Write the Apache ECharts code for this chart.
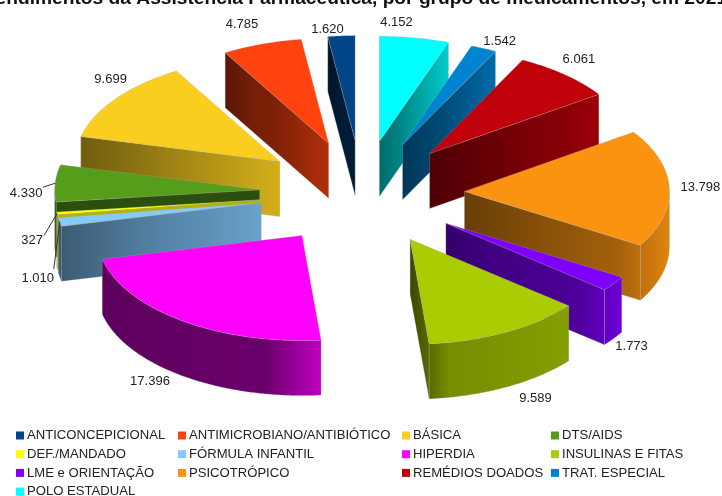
<!DOCTYPE html>
<html>
<head>
<meta charset="utf-8">
<style>html,body{margin:0;padding:0;background:#fff}#main{width:722px;height:496px}</style>
<script src="https://cdn.jsdelivr.net/npm/echarts@6/dist/echarts.min.js"></script>
</head>
<body>
<div id="main"></div>
<script>
const categories = ['ANTICONCEPICIONAL', 'ANTIMICROBIANO/ANTIBIÓTICO', 'BÁSICA', 'DTS/AIDS', 'DEF./MANDADO', 'FÓRMULA INFANTIL', 'HIPERDIA', 'INSULINAS E FITAS', 'LME e ORIENTAÇÃO', 'PSICOTRÓPICO', 'REMÉDIOS DOADOS', 'TRAT. ESPECIAL', 'POLO ESTADUAL']
const values = [1620, 4785, 9699, 4330, 327, 1010, 17396, 9589, 1773, 13798, 6061, 1542, 4152]
const labels = ['1.620', '4.785', '9.699', '4.330', '327', '1.010', '17.396', '9.589', '1.773', '13.798', '6.061', '1.542', '4.152']
const colors = ['#004586', '#ff420e', '#f9ce1e', '#579d1c', '#ffff00', '#83caff', '#ff00ff', '#aacc00', '#8000ff', '#fa9310', '#c0000a', '#0084d1', '#00ffff']

// wall brightness from the left to the right end of each slice
const wallShades = [
  [0.3, 0.35, 0.4, 0.4, 0.4],
  [0.35, 0.45, 0.5, 0.6, 0.7],
  [0.45, 0.55, 0.65, 0.75, 0.85],
  [0.5, 0.5, 0.5, 0.5, 0.5],
  [0.7, 0.7, 0.7, 0.7, 0.7],
  [0.45, 0.55, 0.65, 0.72, 0.8],
  [0.37, 0.38, 0.4, 0.42, 0.75],
  [0.35, 0.7, 0.72, 0.75, 0.78],
  [0.42, 0.5, 0.55, 0.6, 0.85],
  [0.42, 0.5, 0.58, 0.66, 0.9],
  [0.4, 0.5, 0.6, 0.7, 0.8],
  [0.42, 0.5, 0.6, 0.7, 0.8],
  [0.42, 0.5, 0.6, 0.7, 0.8]
]
// label offset from the slice's outer edge
const labelNudge = [[-14, -6], [-20, -20], [-5, -19], [-29, 10], [-25, 27], [-22, 56], [-32, 61], [29, 66], [18, 63], [31, -1], [14, -15], [16, -7], [-18, -15]]
const leaderTail = { 3: [17, -6], 4: [12, -5], 5: [16, -9] }

const CX = 362
const CY = 193
const RX = 205
const RY = 105
const EXPLODE = 0.5
const DEPTH = 55

const total = values.reduce((a, b) => a + b, 0)
const slices = []
let angle = 360
values.forEach((v, i) => {
  const a2 = angle
  angle -= v / total * 360
  slices.push({ index: i, a1: angle, a2: a2, mid: (angle + a2) / 2 })
})

const rad = d => d * Math.PI / 180
const ux = d => Math.sin(rad(d))
const uy = d => -Math.cos(rad(d))

function shade (hex, f) {
  const n = parseInt(hex.slice(1), 16)
  const c = [n >> 16, (n >> 8) & 255, n & 255].map(x => Math.round(x * f))
  return 'rgb(' + c.join(',') + ')'
}

function renderSlice (s) {
  const i = s.index
  const ox = CX + RX * EXPLODE * ux(s.mid)
  const oy = CY + RY * EXPLODE * uy(s.mid)
  const pt = d => [ox + RX * ux(d), oy + RY * uy(d)]
  const down = p => [p[0], p[1] + DEPTH]
  const arc = (a, b) => {
    const pts = []
    const n = Math.max(2, Math.ceil((b - a) * 2))
    for (let k = 0; k <= n; k++) pts.push(pt(a + (b - a) * k / n))
    return pts
  }
  const top = [[ox, oy]].concat(arc(s.a1, s.a2))
  const xs = top.map(p => p[0])
  const grad = new echarts.graphic.LinearGradient(Math.min(...xs), 0, Math.max(...xs), 0,
    wallShades[i].map((f, k) => ({ offset: k / 4, color: shade(colors[i], f) })), true)
  const edge = 'rgba(170,170,170,0.45)'
  const children = []
  const wall = pts => {
    const poly = pts.concat(pts.slice().reverse().map(down))
    children.push({ type: 'polygon', shape: { points: poly }, style: { fill: grad, stroke: edge, lineWidth: 0.6 } })
  }
  // only the faces turned towards the viewer
  if (uy(s.a1 - 90) > 0) wall([[ox, oy], pt(s.a1)])
  if (uy(s.a2 + 90) > 0) wall([[ox, oy], pt(s.a2)])
  const from = Math.max(s.a1, 90)
  const to = Math.min(s.a2, 270)
  if (to > from) wall(arc(from, to))
  children.push({ type: 'polygon', shape: { points: top }, style: { fill: colors[i], stroke: edge, lineWidth: 0.6 } })

  const outer = pt(s.mid)
  const lx = outer[0] + labelNudge[i][0]
  const ly = outer[1] + labelNudge[i][1]
  if (leaderTail[i]) {
    children.push({ type: 'line', z2: 50, shape: { x1: outer[0], y1: outer[1], x2: lx + leaderTail[i][0], y2: ly + leaderTail[i][1] }, style: { stroke: '#333', lineWidth: 1 } })
  }
  children.push({ type: 'text', z2: 100, style: { text: labels[i], x: lx, y: ly, fill: '#222', font: '13px "Liberation Sans"', align: 'center', verticalAlign: 'middle' } })
  return { type: 'group', children: children }
}

// back slices first
const drawOrder = slices.slice().sort((a, b) => uy(a.mid) - uy(b.mid))

const legendColumn = (left, names) => ({
  orient: 'vertical',
  left: left,
  top: 429,
  height: 90,
  padding: 0,
  itemWidth: 8,
  itemHeight: 8,
  itemGap: 5.7,
  icon: 'rect',
  selectedMode: false,
  textStyle: { fontFamily: 'Liberation Sans', fontSize: 13.1, color: '#222', padding: [0, 0, 0, -2] },
  data: names
})

const chart = echarts.init(document.getElementById('main'), null, { renderer: 'canvas' })
chart.setOption({
  animation: false,
  backgroundColor: '#fff',
  title: {
    text: 'Quantitativo de atendimentos da Assistência Farmacêutica, por grupo de medicamentos, em 2021',
    left: -166.5,
    top: -11,
    padding: 0,
    textStyle: { fontFamily: 'Liberation Sans', fontWeight: 'bold', fontSize: 19.2, color: '#111' }
  },
  legend: [
    legendColumn(16, [categories[0], categories[4], categories[8], categories[12]]),
    legendColumn(178, [categories[1], categories[5], categories[9]]),
    legendColumn(402, [categories[2], categories[6], categories[10]]),
    legendColumn(551, [categories[3], categories[7], categories[11]])
  ],
  series: drawOrder.map(s => ({
    type: 'custom',
    name: categories[s.index],
    coordinateSystem: 'none',
    silent: true,
    itemStyle: { color: colors[s.index] },
    data: [values[s.index]],
    renderItem: () => renderSlice(s)
  }))
})
</script>
</body>
</html>
